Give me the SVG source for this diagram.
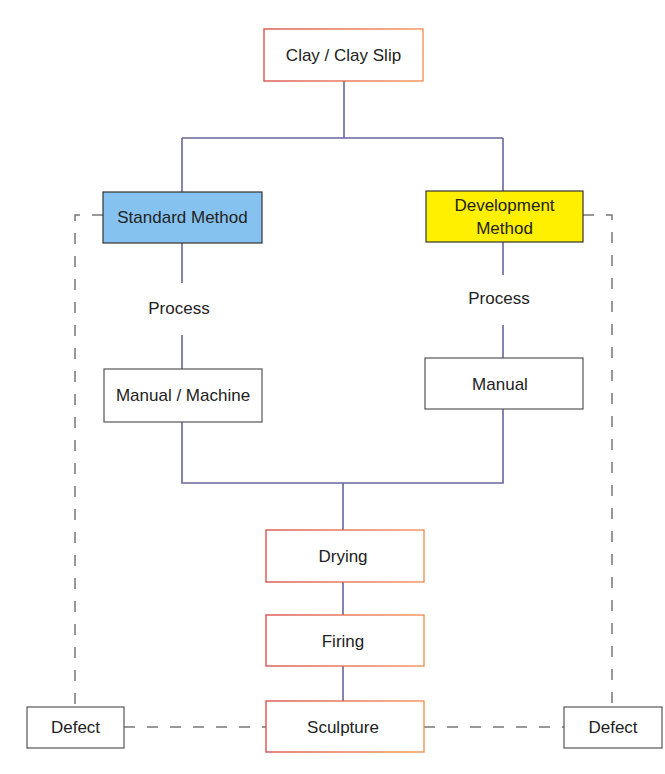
<svg xmlns="http://www.w3.org/2000/svg" width="665" height="774" viewBox="0 0 665 774">
<defs>
<linearGradient id="og" x1="0" y1="0" x2="1" y2="0">
<stop offset="0" stop-color="#d9453f"/>
<stop offset="1" stop-color="#f4894a"/>
</linearGradient>
<style>
.t{font-family:"Liberation Sans",Arial,sans-serif;font-size:17px;fill:#222;text-anchor:middle;dominant-baseline:central}
.o{fill:#fff;stroke:url(#og);stroke-width:1.3}
.g{fill:#fff;stroke:#555;stroke-width:1.2}
.c{fill:none;stroke:#66669e;stroke-width:1.6}
.d{fill:none;stroke:#777;stroke-width:1.5;stroke-dasharray:11 12}
</style>
</defs>
<rect width="665" height="774" fill="#fff"/>
<g id="connectors">
<path class="c" d="M344 81V138M182 138H503M182 138V192M503 138V191"/>
<path class="c" d="M182 243V283M182 335V369M503 242V275M503 325V358"/>
<path class="c" d="M182 422V483H503V409M343 483V530M343 582V615M343 666V701"/>
<path class="d" d="M103 215H75V707"/>
<path class="d" d="M583 215H612V707"/>
<path class="d" d="M124 727H266"/>
<path class="d" d="M424 727H564"/>
</g>
<g id="clay"><rect class="o" x="264" y="29" width="159" height="52"/><text class="t" x="343.5" y="55">Clay / Clay Slip</text></g>
<g id="standard"><rect x="103" y="192" width="159" height="51" fill="#86c2f0" stroke="#333" stroke-width="1.2"/><text class="t" x="182.5" y="217">Standard Method</text></g>
<g id="development"><rect x="426" y="191" width="157" height="51" fill="#fff000" stroke="#333" stroke-width="1.2"/><text class="t" x="504.5" y="205">Development</text><text class="t" x="504.5" y="228">Method</text></g>
<g id="process-left"><text class="t" x="179" y="308">Process</text></g>
<g id="process-right"><text class="t" x="499" y="298">Process</text></g>
<g id="manual-machine"><rect class="g" x="104" y="369" width="158" height="53"/><text class="t" x="183" y="395">Manual / Machine</text></g>
<g id="manual"><rect class="g" x="425" y="358" width="158" height="51"/><text class="t" x="500" y="384">Manual</text></g>
<g id="drying"><rect class="o" x="266" y="530" width="158" height="52"/><text class="t" x="343" y="556">Drying</text></g>
<g id="firing"><rect class="o" x="266" y="615" width="158" height="51"/><text class="t" x="343" y="641">Firing</text></g>
<g id="sculpture"><rect class="o" x="266" y="701" width="158" height="51"/><text class="t" x="343" y="727">Sculpture</text></g>
<g id="defect-left"><rect class="g" x="27" y="707" width="97" height="41"/><text class="t" x="75.5" y="727">Defect</text></g>
<g id="defect-right"><rect class="g" x="564" y="707" width="98" height="41"/><text class="t" x="613" y="727">Defect</text></g>
</svg>
